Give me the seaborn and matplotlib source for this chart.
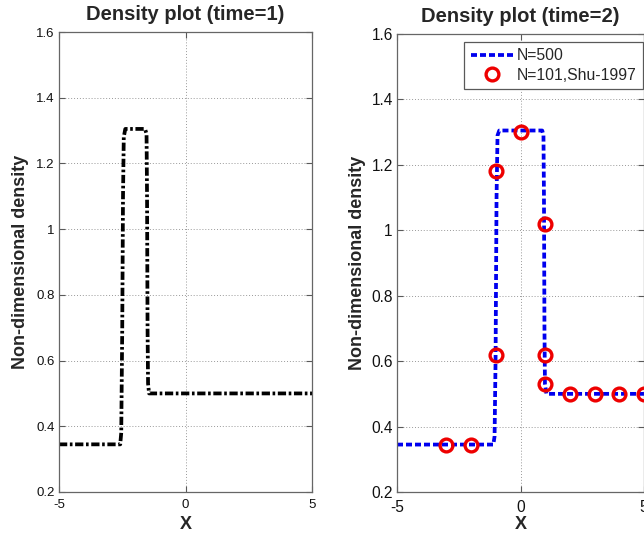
import numpy as np
import pandas as pd
import matplotlib
matplotlib.use("Agg")
import matplotlib.pyplot as plt
import seaborn as sns

# ---- data ----
t1_x = [-5.0, -2.58, -2.54, -2.50, -2.47, -2.44, -2.38, -1.60, -1.54, -1.52, -1.50, -1.48, -1.44, 5.0]
t1_y = [0.345, 0.345, 0.38, 0.70, 1.10, 1.28, 1.305, 1.305, 1.29, 1.10, 0.70, 0.53, 0.50, 0.50]

t2_x = [-5.0, -1.10, -1.05, -1.01, -0.97, -0.93, -0.86, 0.88, 0.93, 0.95, 0.97, 0.99, 1.05, 5.0]
t2_y = [0.345, 0.345, 0.37, 0.60, 1.10, 1.29, 1.305, 1.305, 1.29, 1.10, 0.70, 0.53, 0.50, 0.50]

shu_x = [-3, -2, -1, -1, 0, 1, 1, 1, 2, 3, 4, 5]
shu_y = [0.345, 0.345, 1.18, 0.62, 1.30, 1.02, 0.62, 0.53, 0.50, 0.50, 0.50, 0.50]

xticks = [-5, 0, 5]
yticks = [0.2, 0.4, 0.6, 0.8, 1.0, 1.2, 1.4, 1.6]
ytick_labels = ["0.2", "0.4", "0.6", "0.8", "1", "1.2", "1.4", "1.6"]

sns.set_style("white")
plt.rcParams['font.family'] = ['Liberation Sans', 'DejaVu Sans']

W, H = 644, 538
fig = plt.figure(figsize=(W / 100, H / 100), dpi=100)
axL = fig.add_axes([59 / W, (H - 492) / H, 253 / W, 460 / H])
axR = fig.add_axes([397 / W, (H - 492) / H, 247 / W, 458 / H])

df1 = pd.DataFrame({"x": t1_x, "y": t1_y})
df2 = pd.DataFrame({"x": t2_x, "y": t2_y})
dfs = pd.DataFrame({"x": shu_x, "y": shu_y})

LW = 2.7
sns.lineplot(data=df1, x="x", y="y", ax=axL, sort=False, estimator=None,
             color="black", linewidth=LW)
axL.lines[0].set_dashes((2.2, 0.7, 0.7, 0.7))

sns.lineplot(data=df2, x="x", y="y", ax=axR, sort=False, estimator=None,
             color="#0000ee", linewidth=LW, label="N=500")
axR.lines[0].set_dashes((1.6, 0.8))
axR.plot(dfs["x"], dfs["y"], linestyle="none", marker="o", markersize=9.2,
         markerfacecolor="none", markeredgecolor="#ee0000", markeredgewidth=2.4,
         label="N=101,Shu-1997", clip_on=False, zorder=5)

for ax, title, tfs, xpad in [(axL, "Density plot (time=1)", 9.5, 5), (axR, "Density plot (time=2)", 11.2, 6)]:
    ax.set_xlim(-5, 5)
    ax.set_ylim(0.2, 1.6)
    ax.set_xticks(xticks)
    ax.set_xticklabels([str(v) for v in xticks])
    ax.set_yticks(yticks)
    ax.set_yticklabels(ytick_labels)
    ax.tick_params(direction="in", length=4, width=0.8, color="0.35", labelsize=tfs,
                   pad=3, top=True, right=True, bottom=True, left=True, labelcolor="#111111")
    ax.tick_params(axis="x", pad=xpad)
    ax.grid(True, linestyle=(0, (1, 2)), color="0.6", linewidth=0.7)
    for s in ax.spines.values():
        s.set_visible(True)
        s.set_color("0.4")
        s.set_linewidth(0.9)
    ax.set_title(title, fontsize=14.5, fontweight="bold", pad=8.5)
    ax.set_xlabel("X", fontsize=13, fontweight="bold")
    ax.set_ylabel("Non-dimensional density", fontsize=13, fontweight="bold")
    ax.xaxis.set_label_coords(0.5, -0.052)

axL.yaxis.set_label_coords(-0.12, 0.5)
axR.yaxis.set_label_coords(-0.125, 0.5)

leg = axR.legend(loc="upper right", bbox_to_anchor=(643 / W, 1 - 42 / H),
                 bbox_transform=fig.transFigure, borderaxespad=0, fancybox=False,
                 framealpha=1, edgecolor="0.35", fontsize=11.3, handlelength=2.7,
                 handletextpad=0.25, borderpad=0.4, labelspacing=0.3)
leg.get_frame().set_linewidth(0.9)

fig.savefig("out.png", dpi=100)
